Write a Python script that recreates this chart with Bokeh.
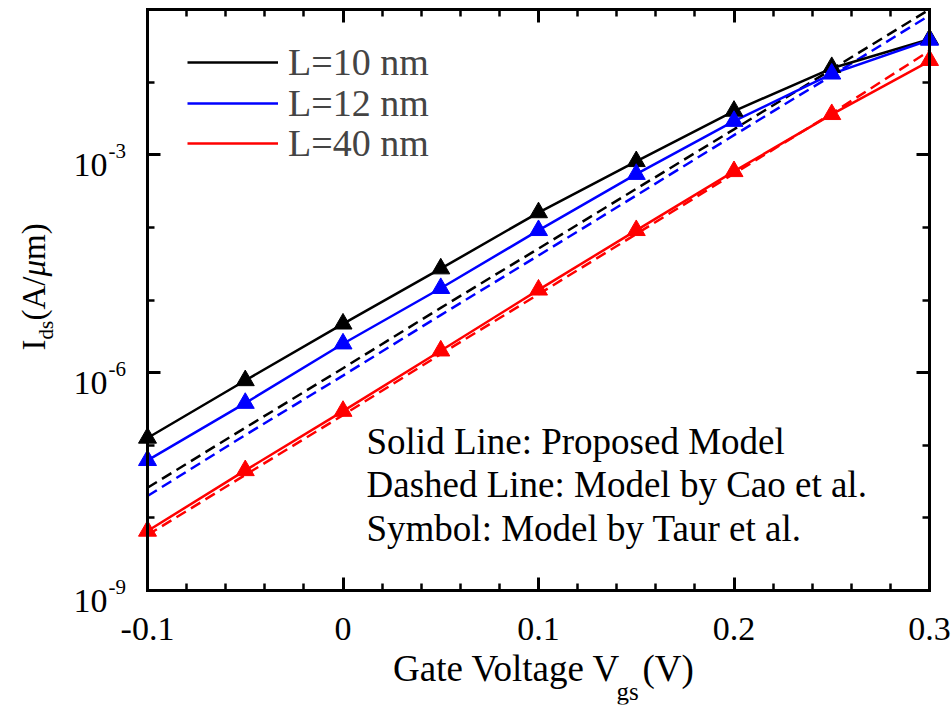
import math
from bokeh.plotting import figure
from bokeh.models import (LogAxis, LinearAxis, FixedTicker, Label, Legend,
                          LegendItem, Range1d, CustomJSTickFormatter)
from bokeh.embed import file_html
from bokeh.resources import INLINE

# ---------------- data ----------------
vgs = [-0.10, -0.05, 0.00, 0.05, 0.10, 0.15, 0.20, 0.25, 0.30]

# Proposed model (solid lines)
prop_L10 = [1.26e-7, 7.8e-7, 4.7e-6, 2.7e-5, 1.6e-4, 8.1e-4, 4.0e-3, 1.55e-2, 3.9e-2]
prop_L12 = [6.2e-8, 3.8e-7, 2.5e-6, 1.45e-5, 9.1e-5, 5.4e-4, 2.9e-3, 1.3e-2, 3.8e-2]
prop_L40 = [6.6e-9, 4.5e-8, 2.95e-7, 2.0e-6, 1.38e-5, 9.1e-5, 5.9e-4, 3.6e-3, 1.95e-2]

# Model by Cao et al. (dashed lines)
cao_L10 = [2.6e-8, 1.74e-7, 1.15e-6, 7.8e-6, 5.1e-5, 3.4e-4, 2.24e-3, 1.5e-2, 1.0e-1]
cao_L12 = [2.0e-8, 1.38e-7, 9.1e-7, 6.2e-6, 4.1e-5, 2.75e-4, 1.86e-3, 1.23e-2, 8.3e-2]
cao_L40 = [5.8e-9, 3.9e-8, 2.6e-7, 1.8e-6, 1.2e-5, 8.1e-5, 5.5e-4, 3.7e-3, 2.7e-2]

# Model by Taur et al. (symbols)
taur_L10 = [1.26e-7, 7.8e-7, 4.7e-6, 2.7e-5, 1.6e-4, 8.1e-4, 4.0e-3, 1.6e-2, 3.9e-2]
taur_L12 = [6.2e-8, 3.8e-7, 2.5e-6, 1.45e-5, 9.1e-5, 5.4e-4, 2.9e-3, 1.3e-2, 3.8e-2]
taur_L40 = [6.6e-9, 4.5e-8, 2.95e-7, 2.0e-6, 1.38e-5, 9.1e-5, 5.9e-4, 3.6e-3, 2.0e-2]

series_labels = ["L=10 nm", "L=12 nm", "L=40 nm"]
series_colors = ["#000000", "#0000FF", "#FF0000"]

x_major = [-0.1, 0.0, 0.1, 0.2, 0.3]
x_major_text = ["-0.1", "0", "0.1", "0.2", "0.3"]
x_minor = [-0.08, -0.06, -0.04, -0.02, 0.02, 0.04, 0.06, 0.08,
           0.12, 0.14, 0.16, 0.18, 0.22, 0.24, 0.26, 0.28]
y_major_exp = [-9, -6, -3]
y_minor_exp = [-8, -7, -5, -4, -2, -1]

# ---------------- layout constants (pixels) ----------------
FONT = "Liberation Serif"
W, H = 952, 708
MB_L, MB_R, MB_T, MB_B = 10, 2, 4, 4            # borders -> frame
BOX_L, BOX_R, BOX_T, BOX_B = 147, 929, 9, 590    # the axes box inside the frame
X0, X1 = -0.1, 0.3
LY0, LY1 = -9.0, -1.0
Y0, Y1 = 10 ** LY0, 10 ** LY1

ux = (X1 - X0) / (BOX_R - BOX_L)
uy = (LY1 - LY0) / (BOX_B - BOX_T)
x_start = X0 - (BOX_L - MB_L) * ux
x_end = X1 + ((W - MB_R) - BOX_R) * ux
y_start = 10 ** (LY0 - ((H - MB_B) - BOX_B) * uy)
y_end = 10 ** (LY1 + (BOX_T - MB_T) * uy)

p = figure(width=W, height=H, output_backend="svg", toolbar_location=None,
           x_range=Range1d(x_start, x_end), y_range=Range1d(y_start, y_end),
           y_axis_type="log", x_axis_location=None, y_axis_location=None,
           min_border_left=MB_L, min_border_right=MB_R, min_border_top=MB_T,
           min_border_bottom=MB_B)
p.xgrid.visible = False
p.ygrid.visible = False
p.outline_line_color = None
p.background_fill_color = "white"
p.border_fill_color = "white"


def style_axis(ax, major, minor, loc, bounds):
    ax.ticker = FixedTicker(ticks=major, minor_ticks=minor)
    ax.formatter = CustomJSTickFormatter(code="return ' ';")
    ax.fixed_location = loc
    ax.bounds = bounds
    ax.major_label_text_font_size = "2px"
    ax.major_label_text_color = None
    ax.major_label_standoff = 0
    ax.axis_line_color = "black"
    ax.axis_line_width = 3
    ax.axis_line_cap = "square"
    ax.major_tick_in = 13
    ax.major_tick_out = 0
    ax.minor_tick_in = 7
    ax.minor_tick_out = 0
    ax.major_tick_line_width = 3
    ax.minor_tick_line_width = 2.5
    ax.major_tick_line_color = "black"
    ax.minor_tick_line_color = "black"
    return ax


y_major = [10.0 ** e for e in y_major_exp]
y_minor = [10.0 ** e for e in y_minor_exp]
p.add_layout(style_axis(LinearAxis(), x_major, x_minor, Y0, (X0, X1)), "below")
p.add_layout(style_axis(LinearAxis(), x_major, x_minor, Y1, (X0, X1)), "above")
p.add_layout(style_axis(LogAxis(), y_major, y_minor, X0, (Y0, Y1)), "left")
p.add_layout(style_axis(LogAxis(), y_major, y_minor, X1, (Y0, Y1)), "right")

# ---------------- series ----------------
prop = [prop_L10, prop_L12, prop_L40]
cao = [cao_L10, cao_L12, cao_L40]
taur = [taur_L10, taur_L12, taur_L40]

for ys, c in zip(cao, series_colors):
    p.line(vgs, ys, line_color=c, line_width=2.5, line_dash="11 6")

solid_renderers = []
for ys, c in zip(prop, series_colors):
    solid_renderers.append(p.line(vgs, ys, line_color=c, line_width=2.5))

for ys, c in zip(taur, series_colors):
    p.scatter(vgs, ys, marker="triangle", size=18, fill_color=c, line_color=c)

# legend: one entry per Legend so each row sits exactly where the reference has it
legend_rows_py = [62, 103, 143]
ITEM_H = 50
for lab, r, cy in zip(series_labels, solid_renderers, legend_rows_py):
    lg = Legend(items=[LegendItem(label=lab, renderers=[r])],
                location=(187 - MB_L, (H - MB_B) - (cy + ITEM_H / 2)),
                margin=0, padding=0, spacing=0,
                border_line_color=None, background_fill_alpha=0,
                label_text_font=FONT, label_text_font_size="38px",
                glyph_width=91, glyph_height=ITEM_H, label_height=ITEM_H,
                label_standoff=10)
    p.add_layout(lg)

# ---------------- texts (offsets from the box's lower-left corner) ----------------
K_BASE = 0.31   # measured shift of the rendered baseline, as a fraction of font size


def put(text, px, py, size, align="left", angle=0.0, style="normal"):
    if angle:
        px = px - K_BASE * size
    else:
        py = py - K_BASE * size
    p.add_layout(Label(x=X0, y=Y0, x_offset=px - BOX_L,
                       y_offset=BOX_B - py, text=text,
                       text_font=FONT, text_font_size=f"{size}px",
                       text_font_style=style, text_color="black",
                       text_align=align, text_baseline="alphabetic",
                       angle=angle))


# x tick labels
for v, t in zip(x_major, x_major_text):
    put(t, BOX_L + (v - X0) / ux, 639, 34, align="center")

# y tick labels 10^e
for e in y_major_exp:
    ty = BOX_B - (e - LY0) / uy
    put("10", 107, ty + 21, 34, align="right")
    put(str(e), 108, ty + 3, 21, align="left")

# x-axis title
put("Gate Voltage V", 620, 679, 37, align="right")
put("gs", 616, 699, 25, align="left")
put("(V)", 642, 679, 37, align="left")

# y-axis title (rotated)
rot = math.pi / 2
put("I", 44, 350, 33, angle=rot)
put("ds", 52, 339, 21, angle=rot)
put("(A/", 44, 320, 33, angle=rot)
put("\u03bc", 44, 276, 33, angle=rot, style="italic")
put("m)", 44, 259.5, 33, angle=rot)

# annotation
put("Solid Line: Proposed Model", 366, 452, 37)
put("Dashed Line: Model by Cao et al.", 366, 495, 37)
put("Symbol: Model by Taur et al.", 366, 539, 37)

open("out.html", "w").write(file_html(p, INLINE))
